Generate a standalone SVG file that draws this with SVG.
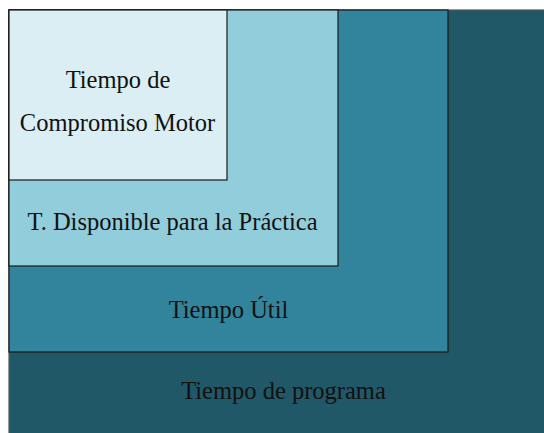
<svg xmlns="http://www.w3.org/2000/svg" width="544" height="433" viewBox="0 0 544 433">
<style>
.b{stroke:#1a1a1a;stroke-width:1.2}
.t{font-family:"Liberation Serif","Times New Roman",serif;font-size:24.5px;fill:#111;text-anchor:middle}
</style>
<rect width="544" height="433" fill="#fff"/>
<g id="programa"><rect x="9" y="10" width="536" height="424" fill="#215868" stroke="#555" stroke-width="1.2"/><text class="t" x="283.5" y="399">Tiempo de programa</text></g>
<g id="util"><rect x="9" y="10" width="439" height="342" fill="#31849B" class="b"/><text class="t" x="228.5" y="318">Tiempo Útil</text></g>
<g id="disponible"><rect x="9" y="10" width="329" height="256" fill="#92CDDC" class="b"/><text class="t" x="172.5" y="230">T. Disponible para la Práctica</text></g>
<g id="compromiso"><rect x="9" y="10" width="218" height="170" fill="#DAEEF3" class="b"/><text class="t" x="118" y="88">Tiempo de</text><text class="t" x="117.5" y="130.5">Compromiso Motor</text></g>
<g id="connectors"/>
</svg>
